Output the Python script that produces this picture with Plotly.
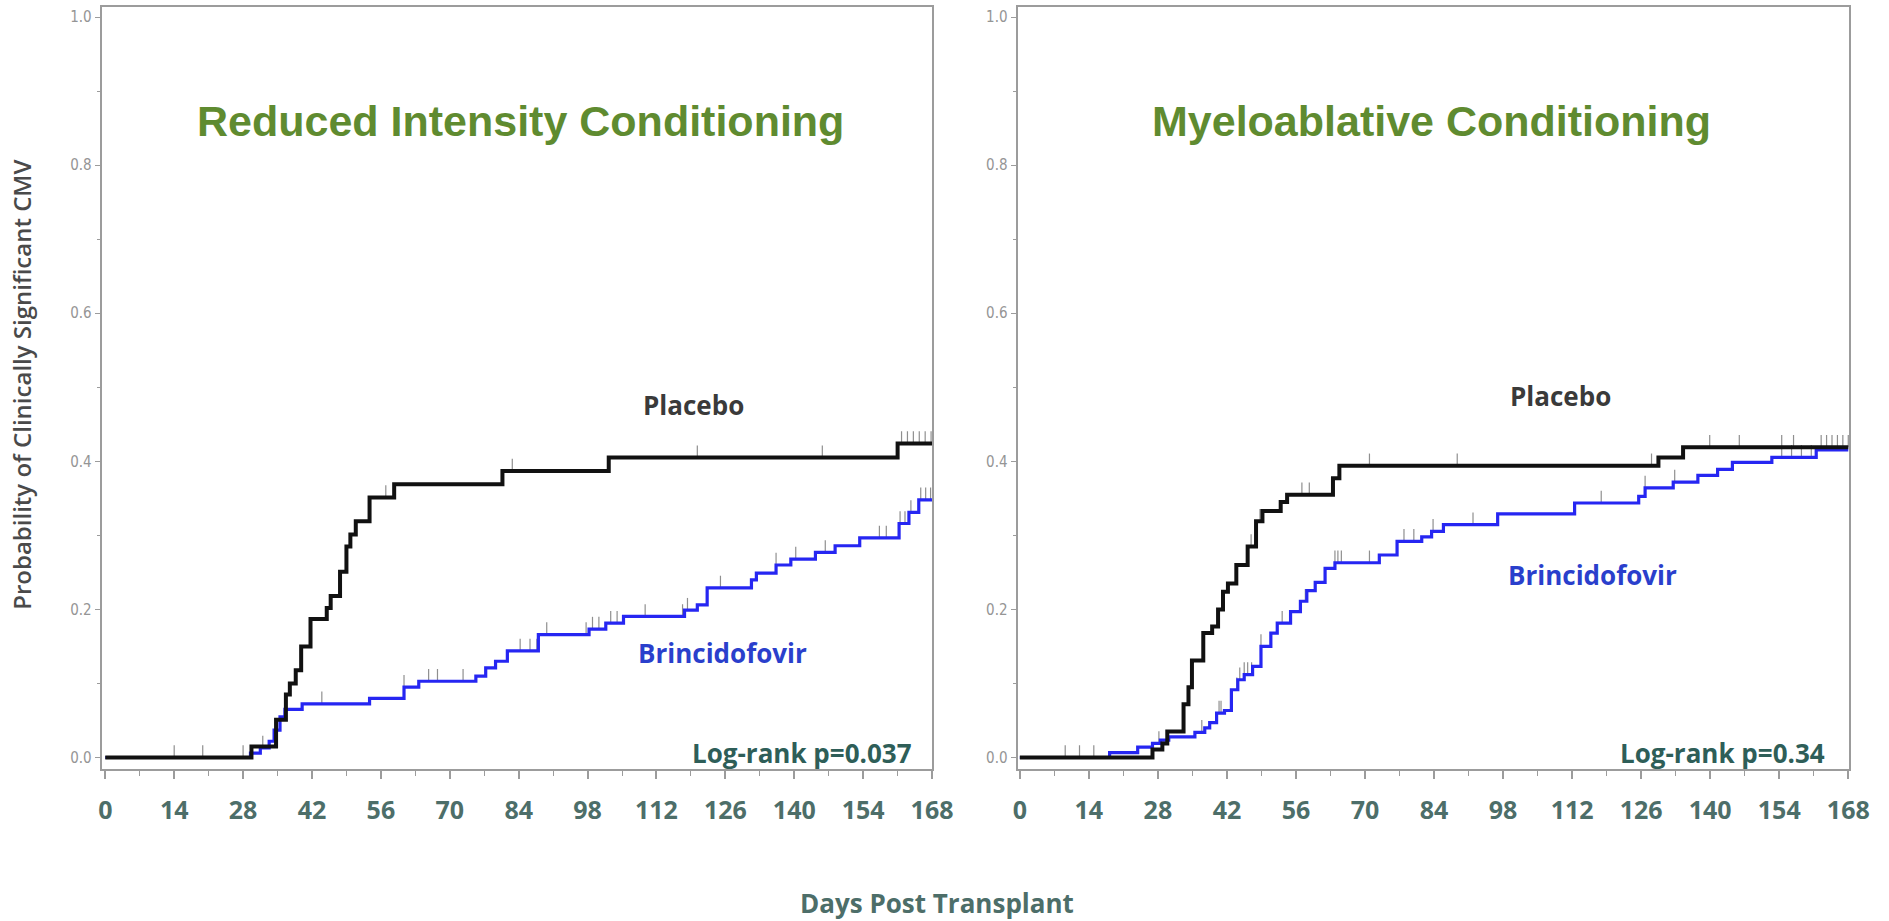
import numpy as np
import plotly.graph_objects as go

# ---------------- data ----------------
day_ticks = list(range(0, 169, 14))
prob_ticks = [0.0, 0.2, 0.4, 0.6, 0.8, 1.0]
prob_tick_text = ["0.0", "0.2", "0.4", "0.6", "0.8", "1.0"]

panel_titles = ["Reduced Intensity Conditioning", "Myeloablative Conditioning"]
logrank_text = ["Log-rank p=0.037", "Log-rank p=0.34"]
series_names = ["Placebo", "Brincidofovir"]

# Reduced intensity conditioning - Placebo
ric_placebo_t = [0, 29.7, 34.7, 36.7, 37.5, 38.7, 39.8, 41.7, 45.0, 45.8, 47.7, 49.0, 49.8, 50.9,
                 53.7, 58.7, 80.7, 102.3, 161.0, 168]
ric_placebo_p = [0, 0.015, 0.051, 0.085, 0.100, 0.118, 0.150, 0.187, 0.202, 0.218, 0.251, 0.285,
                 0.301, 0.319, 0.351, 0.369, 0.387, 0.405, 0.424, 0.424]
ric_placebo_cens = [14, 19.8, 57, 82.7, 120.3, 145.7, 161.8, 163.0, 164.2, 165.4, 166.6, 167.8]

# Reduced intensity conditioning - Brincidofovir
ric_bcv_t = [0, 29.5, 31.5, 33.3, 34.3, 35.5, 36.5, 40.0, 53.7, 60.7, 63.7, 75.3, 77.3, 79.3,
             81.7, 88.0, 98.3, 101.7, 105.3, 117.7, 120.3, 122.3, 131.3, 132.3, 136.3, 139.3,
             144.3, 148.3, 153.3, 161.3, 163.3, 165.3, 168]
ric_bcv_p = [0, 0.006, 0.013, 0.022, 0.037, 0.055, 0.065, 0.0725, 0.080, 0.095, 0.103, 0.110,
             0.121, 0.130, 0.144, 0.166, 0.1735, 0.1815, 0.1905, 0.199, 0.206, 0.229, 0.240,
             0.249, 0.260, 0.268, 0.277, 0.286, 0.2965, 0.316, 0.331, 0.348, 0.348]
ric_bcv_cens = [28, 32, 44, 60.7, 65.7, 67.5, 72.7, 84.3, 86.3, 87.7, 89.7, 97.7, 99.0, 100.3,
                102.7, 104.0, 109.7, 117.3, 118.3, 125.0, 136.3, 140.3, 146.3, 157.3, 158.7,
                161.5, 162.5, 163.7, 165.7, 166.7, 167.7]

# Myeloablative conditioning - Placebo
mac_placebo_t = [0, 26.9, 28.9, 29.9, 33.2, 34.2, 34.9, 37.2, 39.0, 40.2, 41.2, 42.2, 43.9, 46.2,
                 47.9, 49.2, 52.9, 54.2, 63.5, 64.8, 129.5, 134.5, 168]
mac_placebo_p = [0, 0.011, 0.019, 0.035, 0.072, 0.095, 0.131, 0.168, 0.177, 0.200, 0.224, 0.235,
                 0.260, 0.285, 0.319, 0.333, 0.345, 0.355, 0.377, 0.394, 0.405, 0.419, 0.419]
mac_placebo_cens = [9.2, 12.1, 15.0, 46.9, 48.7, 57.2, 58.7, 70.9, 88.7, 128.1, 139.9, 145.9,
                    154.5, 156.9, 162.5, 163.6, 164.7, 165.8, 166.9, 168]

# Myeloablative conditioning - Brincidofovir
mac_bcv_t = [0, 18.2, 23.9, 26.9, 28.5, 30.2, 35.5, 37.5, 38.5, 39.9, 41.5, 42.9, 44.2, 45.5,
             47.2, 48.9, 50.9, 52.2, 54.9, 56.9, 58.2, 59.9, 61.9, 63.9, 72.9, 76.5, 81.5, 83.5,
             85.9, 96.9, 112.5, 125.5, 126.8, 132.5, 137.5, 141.5, 144.5, 152.5, 161.5, 168]
mac_bcv_p = [0, 0.0065, 0.014, 0.019, 0.0235, 0.028, 0.034, 0.040, 0.047, 0.060, 0.0635, 0.0915,
             0.105, 0.112, 0.123, 0.150, 0.168, 0.1815, 0.197, 0.211, 0.2255, 0.2365, 0.2555,
             0.263, 0.2735, 0.292, 0.298, 0.3055, 0.3145, 0.329, 0.3437, 0.3527, 0.364, 0.372,
             0.381, 0.389, 0.3985, 0.4054, 0.4155, 0.4155]
mac_bcv_cens = [28.2, 36.9, 40.4, 40.8, 44.0, 44.6, 45.5, 46.2, 47.0, 48.9, 53.2, 57.9, 63.9,
                64.5, 65.2, 70.9, 77.9, 79.9, 83.8, 91.9, 117.9, 126.8, 132.8, 154.5, 156.5,
                158.5, 160.5]

# ---------------- styling ----------------
W, H = 1889, 921
BLACK = "#111111"
BLUE = "#2626f2"
AXIS = "#9c9c9c"
CENS = "#8f8f8f"
GREEN = "#5f8b30"
TEAL = "#4d6e69"


def px_x(X):
    return X / W


def px_y(Y):
    return 1 - Y / H


def step_at(t, times, vals):
    idx = np.searchsorted(np.asarray(times), t, side="right") - 1
    return np.asarray(vals)[idx]


fig = go.Figure()

panels = [
    dict(xa="x", ya="y", curves=[(ric_bcv_t, ric_bcv_p, ric_bcv_cens, BLUE, 3.2),
                                 (ric_placebo_t, ric_placebo_p, ric_placebo_cens, BLACK, 4)]),
    dict(xa="x2", ya="y2", curves=[(mac_bcv_t, mac_bcv_p, mac_bcv_cens, BLUE, 3.2),
                                   (mac_placebo_t, mac_placebo_p, mac_placebo_cens, BLACK, 4)]),
]

CENS_LIFT = 0.008
for p in panels:
    # censor marks first (under the curves)
    for t, v, c, col, lw in p["curves"]:
        cy = step_at(np.array(c), t, v) + CENS_LIFT
        fig.add_trace(go.Scatter(x=c, y=cy, mode="markers", xaxis=p["xa"], yaxis=p["ya"],
                                 marker=dict(symbol="line-ns-open", size=9, color=CENS,
                                             line=dict(color=CENS, width=1.2)),
                                 showlegend=False, hoverinfo="skip"))
    for t, v, c, col, lw in p["curves"]:
        fig.add_trace(go.Scatter(x=t, y=v, mode="lines", line=dict(color=col, width=lw, shape="hv"),
                                 xaxis=p["xa"], yaxis=p["ya"], showlegend=False))

y_dom = [px_y(769), px_y(7)]
y_rng = [-0.0155, 1.0135]

xcommon = dict(showline=True, linecolor=AXIS, linewidth=2, mirror=True, showgrid=False,
               zeroline=False, ticks="outside", tickvals=day_ticks, ticklen=8, tickwidth=1.5,
               tickcolor=AXIS,
               minor=dict(dtick=7, tick0=0, ticks="outside", ticklen=5, tickwidth=1.2,
                          tickcolor=AXIS, showgrid=False),
               tickfont=dict(family="Open Sans", size=25, color=TEAL, weight="bold"),
               ticklabelstandoff=10)
ycommon = dict(showline=True, linecolor=AXIS, linewidth=2, mirror=True, showgrid=False,
               zeroline=False, ticks="outside", tickvals=prob_ticks, ticktext=prob_tick_text,
               ticklen=5, tickwidth=1.2, tickcolor=AXIS,
               minor=dict(dtick=0.1, tick0=0, ticks="outside", ticklen=3, tickwidth=1,
                          tickcolor=AXIS, showgrid=False),
               tickfont=dict(family="Liberation Sans Narrow, DejaVu Sans Condensed, Liberation Sans",
                             size=15, color="#959595"),
               range=y_rng, domain=y_dom)

fig.update_layout(
    width=W, height=H, margin=dict(l=0, r=0, t=0, b=0), autosize=False,
    paper_bgcolor="white", plot_bgcolor="white",
    xaxis=dict(domain=[px_x(98), px_x(940)], range=[-0.74, 168], anchor="y", **xcommon),
    yaxis=dict(anchor="x", **ycommon),
    xaxis2=dict(domain=[px_x(1026.7), px_x(1870)], range=[-0.46, 168.2], anchor="y2", **xcommon),
    yaxis2=dict(anchor="x2", **ycommon),
)

ann = []
# panel titles
for txt, X in zip(panel_titles, [523, 1446]):
    ann.append(dict(text=txt, x=px_x(X), y=px_y(121), xref="paper", yref="paper",
                    showarrow=False, xanchor="center", yanchor="middle",
                    font=dict(family="Liberation Sans, Arial", size=43, color=GREEN,
                              weight="bold")))
# series labels
for X, Y in [(698, 405), (1577, 396)]:
    ann.append(dict(text=series_names[0], x=px_x(X), y=px_y(Y), xref="paper", yref="paper",
                    showarrow=False, xanchor="center", yanchor="middle",
                    font=dict(family="Open Sans", size=26, color="#3a3a3a", weight="bold")))
for X, Y in [(728, 653), (1610, 575)]:
    ann.append(dict(text=series_names[1], x=px_x(X), y=px_y(Y), xref="paper", yref="paper",
                    showarrow=False, xanchor="center", yanchor="middle",
                    font=dict(family="Open Sans", size=26, color="#2a3fcc", weight="bold")))
# log-rank
for txt, X in zip(logrank_text, [922, 1847]):
    ann.append(dict(text=txt, x=px_x(X), y=px_y(753), xref="paper", yref="paper",
                    showarrow=False, xanchor="right", yanchor="middle",
                    font=dict(family="Open Sans", size=26, color="#2e5e58", weight="bold")))
# axis titles
ann.append(dict(text="Days Post Transplant", x=px_x(945), y=px_y(903), xref="paper",
                yref="paper", showarrow=False, xanchor="center", yanchor="middle",
                font=dict(family="Open Sans", size=26, color=TEAL, weight="bold")))
ann.append(dict(text="Probability of Clinically Significant CMV", x=px_x(17), y=px_y(385),
                xref="paper", yref="paper", showarrow=False, xanchor="center",
                yanchor="middle", textangle=-90,
                font=dict(family="Open Sans", size=24, color="#4a4a4a", weight=600)))
fig.update_layout(annotations=ann)

fig.write_html("out.html")
